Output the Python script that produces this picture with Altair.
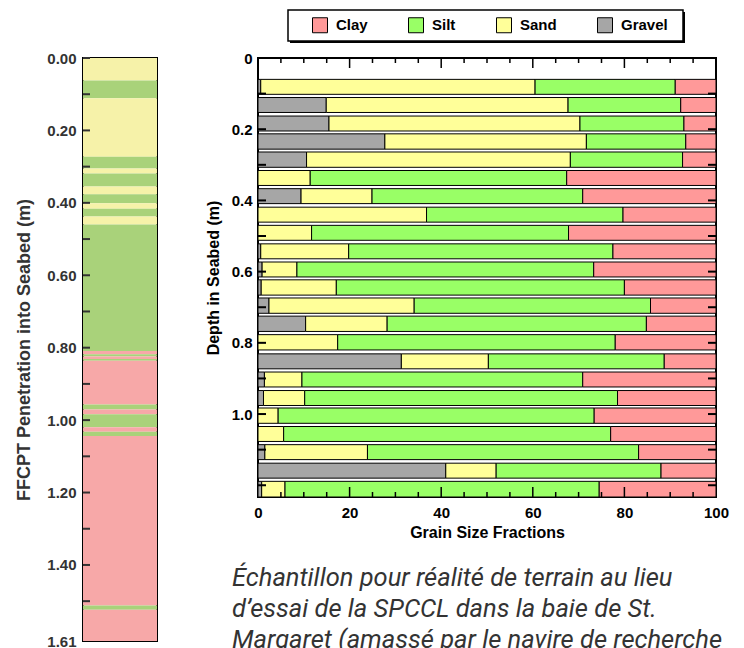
import altair as alt
import pandas as pd

# ---------------- data ----------------
# Left strip: FFCPT soil-behaviour bands, depth (m)
band_top = [0.000, 0.062, 0.111, 0.273, 0.305, 0.319, 0.355, 0.376, 0.401, 0.416,
            0.438, 0.460, 0.809, 0.818, 0.824, 0.831, 0.836, 0.957, 0.971, 0.984,
            1.020, 1.032, 1.044, 1.512, 1.524]
band_bottom = [0.062, 0.111, 0.273, 0.305, 0.319, 0.355, 0.376, 0.401, 0.416, 0.438,
               0.460, 0.809, 0.818, 0.824, 0.831, 0.836, 0.957, 0.971, 0.984, 1.020,
               1.032, 1.044, 1.512, 1.524, 1.610]
band_class = ["Sand", "Silt", "Sand", "Silt", "Sand", "Silt", "Sand", "Silt", "Sand", "Silt",
              "Sand", "Silt", "Clay", "Silt", "Clay", "Silt", "Clay", "Silt", "Clay", "Silt",
              "Clay", "Silt", "Clay", "Silt", "Clay"]
strip_label_values = [0.0, 0.2, 0.4, 0.6, 0.8, 1.0, 1.2, 1.4, 1.61]
strip_tick_values = [0.0, 0.1, 0.2, 0.3, 0.4, 0.5, 0.6, 0.7, 0.8, 0.9, 1.0, 1.1, 1.2, 1.3, 1.4, 1.5]

# Right panel: core sample intervals (m) and grain size fractions (%)
sample_top = [0.060, 0.111, 0.163, 0.213, 0.264, 0.316, 0.367, 0.419, 0.470, 0.522,
              0.573, 0.623, 0.674, 0.725, 0.777, 0.831, 0.882, 0.934, 0.983, 1.035,
              1.086, 1.138, 1.189]
sample_bottom = [0.102, 0.153, 0.205, 0.256, 0.307, 0.358, 0.409, 0.461, 0.512, 0.564,
                 0.615, 0.666, 0.717, 0.768, 0.820, 0.873, 0.924, 0.976, 1.026, 1.077,
                 1.128, 1.180, 1.233]
gravel = [0.6, 14.9, 15.5, 27.7, 10.6, 0.0, 9.4, 0.0, 0.0, 0.6, 0.9, 0.7, 2.4, 10.4, 0.0,
          31.3, 1.4, 1.2, 0.0, 0.0, 1.5, 41.0, 0.8]
sand = [59.9, 52.8, 54.8, 44.0, 57.6, 11.4, 15.5, 36.8, 11.7, 19.2, 7.6, 16.4, 31.7, 17.8,
        17.4, 19.0, 8.2, 9.0, 4.4, 5.6, 22.4, 11.0, 5.1]
silt = [30.6, 24.6, 22.7, 21.7, 24.5, 56.0, 46.0, 42.9, 56.1, 57.7, 64.8, 62.9, 51.6, 56.6,
        60.6, 38.4, 61.3, 68.3, 69.0, 71.4, 59.2, 36.0, 68.6]
clay = [8.9, 7.7, 7.0, 6.6, 7.3, 32.6, 29.1, 20.3, 32.2, 22.5, 26.7, 20.0, 14.3, 15.2,
        22.0, 11.3, 29.1, 21.5, 26.6, 23.0, 16.9, 12.0, 25.5]
depth_label_values = [0.0, 0.2, 0.4, 0.6, 0.8, 1.0]
depth_tick_values = [0.1, 0.2, 0.3, 0.4, 0.5, 0.6, 0.7, 0.8, 0.9, 1.0, 1.1, 1.2]
frac_label_values = [0, 20, 40, 60, 80, 100]
frac_minor_ticks = [5, 10, 15, 25, 30, 35, 45, 50, 55, 65, 70, 75, 85, 90, 95]
frac_major_ticks = [20, 40, 60, 80]

fractions = ["Clay", "Silt", "Sand", "Gravel"]
fraction_colors = ["#FF9999", "#99FF66", "#FFFF99", "#A6A6A6"]
strip_classes = ["Sand", "Silt", "Clay"]
strip_colors = ["#F6F2A9", "#A9D27A", "#F7A8A8"]

caption = ["Échantillon pour réalité de terrain au lieu",
           "d’essai de la SPCCL dans la baie de St.",
           "Margaret (amassé par le navire de recherche"]

# ---------------- tables ----------------
bands_df = pd.DataFrame({"top": band_top, "bottom": band_bottom, "cls": band_class})
strip_ticks_df = pd.DataFrame({"top": strip_tick_values})

rows = []
for i in range(len(sample_top)):
    for order, (name, vals) in enumerate([("Gravel", gravel), ("Sand", sand),
                                          ("Silt", silt), ("Clay", clay)]):
        rows.append({"top": sample_top[i], "bottom": sample_bottom[i],
                     "fraction": name, "value": vals[i], "order": order})
grain_df = pd.DataFrame(rows)
depth_ticks_df = pd.DataFrame({"top": depth_tick_values})
minor_df = pd.DataFrame({"x0": frac_minor_ticks})
major_df = pd.DataFrame({"x0": frac_major_ticks})
one_df = pd.DataFrame({"k": [0]})

FONT = "Liberation Sans"
LW, LH = 74, 583
RW, RH = 458, 439

# ---------------- left strip ----------------
yl_scale = alt.Scale(domain=[0, 1.61], reverse=True, nice=False, zero=False)
yl_axis = alt.Axis(values=strip_label_values, format=".2f", tickSize=0,
                   domain=False, grid=False, labelFont=FONT, labelFontSize=15,
                   labelFontWeight="bold", labelColor="#333333", labelPadding=7,
                   title="FFCPT Penetration into Seabed (m)",
                   titleFont=FONT, titleFontSize=18, titleFontWeight="bold",
                   titleColor="#333333", titlePadding=13)
strip = alt.Chart(bands_df).mark_rect().encode(
    x=alt.value(0), x2=alt.value(LW),
    y=alt.Y("top:Q", scale=yl_scale, axis=yl_axis),
    y2="bottom:Q",
    color=alt.Color("cls:N", scale=alt.Scale(domain=strip_classes, range=strip_colors),
                    legend=None),
)
strip_ticks = alt.Chart(strip_ticks_df).mark_rule(color="#333333", strokeWidth=2).encode(
    y=alt.Y("top:Q", scale=yl_scale, axis=yl_axis),
    x=alt.value(0), x2=alt.value(7),
)
left = alt.layer(strip, strip_ticks).properties(width=LW, height=LH)

# ---------------- right stacked bars ----------------
yr_scale = alt.Scale(domain=[0, 1.233], reverse=True, nice=False, zero=False)
xr_scale = alt.Scale(domain=[0, 100], nice=False)
xr_axis = alt.Axis(values=frac_label_values, tickSize=0, domain=False, grid=False,
                   labelFlush=False, labelFont=FONT, labelFontSize=15,
                   labelFontWeight="bold", labelColor="black", labelPadding=8,
                   title="Grain Size Fractions",
                   titleFont=FONT, titleFontSize=16, titleFontWeight="bold",
                   titleColor="black", titlePadding=4)
yr_axis = alt.Axis(values=depth_label_values, tickSize=0, domain=False, grid=False,
                   labelExpr="datum.value == 0 ? '0' : format(datum.value, '.1f')",
                   labelFont=FONT, labelFontSize=15, labelFontWeight="bold",
                   labelColor="black", labelPadding=6,
                   title="Depth in Seabed (m)",
                   titleFont=FONT, titleFontSize=16, titleFontWeight="bold",
                   titleColor="black", titlePadding=10)

bars = alt.Chart(grain_df).transform_filter("datum.value > 0").transform_stack(
    stack="value", groupby=["top"], as_=["x0", "x1"],
    sort=[alt.SortField("order", order="ascending")],
).mark_bar(stroke="black", strokeWidth=1).encode(
    x=alt.X("x0:Q", scale=xr_scale, axis=xr_axis),
    x2="x1:Q",
    y=alt.Y("top:Q", scale=yr_scale, axis=yr_axis),
    y2="bottom:Q",
    color=alt.Color("fraction:N", scale=alt.Scale(domain=fractions, range=fraction_colors),
                    legend=alt.Legend(orient="none", legendX=54, legendY=-41,
                                      direction="horizontal", columns=4, title=None,
                                      symbolType="square", symbolSize=225,
                                      symbolStrokeColor="black", symbolStrokeWidth=1,
                                      symbolOpacity=1, labelFont=FONT, labelFontSize=15,
                                      labelFontWeight="bold", labelColor="black",
                                      labelOffset=8, columnPadding=38, padding=0)),
)

shadow = alt.Chart(one_df).mark_rect(fill="black", clip=False).encode(
    x=alt.value(32), x2=alt.value(427), y=alt.value(-46), y2=alt.value(-15))
box = alt.Chart(one_df).mark_rect(fill="white", stroke="black", strokeWidth=1.5,
                                  clip=False).encode(
    x=alt.value(30), x2=alt.value(425), y=alt.value(-48), y2=alt.value(-17))

def yrule(x_a, x_b):
    return alt.Chart(depth_ticks_df).mark_rule(color="black", strokeWidth=2).encode(
        y=alt.Y("top:Q", scale=yr_scale, axis=yr_axis),
        x=alt.value(x_a), x2=alt.value(x_b))

def xrule(df, y_a, y_b):
    return alt.Chart(df).mark_rule(color="black", strokeWidth=1.5).encode(
        x=alt.X("x0:Q", scale=xr_scale, axis=xr_axis),
        y=alt.value(y_a), y2=alt.value(y_b))

right = alt.layer(
    shadow, box, bars,
    yrule(0, 8), yrule(RW - 8, RW),
    xrule(minor_df, 0, 5), xrule(major_df, 0, 10),
    xrule(minor_df, RH, RH - 5), xrule(major_df, RH, RH - 10),
).properties(
    width=RW, height=RH,
    title=alt.TitleParams(text=caption, orient="bottom", anchor="start", frame="group",
                          font="Roboto", fontSize=25.5, fontStyle="italic",
                          fontWeight="normal", color="#333333", lineHeight=31,
                          offset=26, dx=-26),
)

chart = alt.hconcat(left, right, spacing=101, bounds="flush").resolve_scale(
    color="independent", x="independent", y="independent"
).properties(
    padding={"left": 6, "top": 0, "right": 0, "bottom": 0}
).configure_view(stroke="black", strokeWidth=2)

chart.save("out.html", embed_options={"renderer": "svg", "actions": False})
